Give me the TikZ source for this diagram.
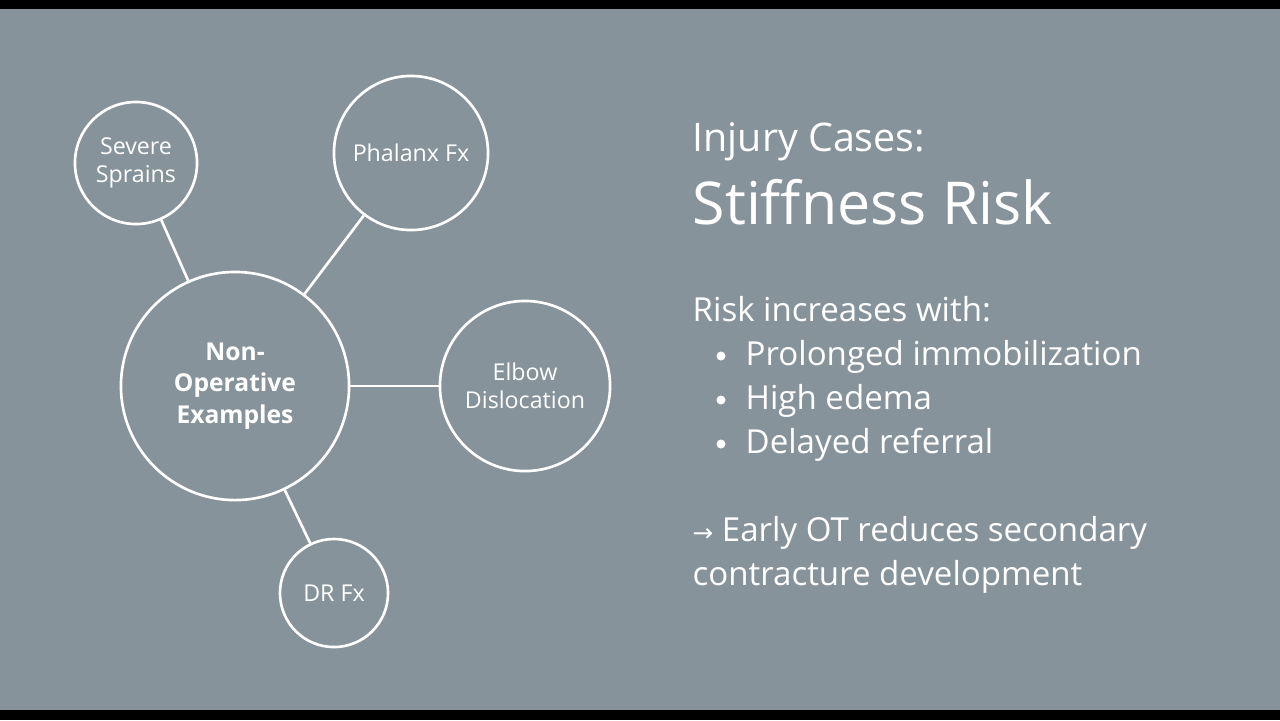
\documentclass[tikz,border=0pt]{standalone}
\usepackage{fontspec}
\setmainfont{Open Sans}
\newfontfamily\arrowfont{DejaVu Sans}
\definecolor{bg}{HTML}{87939A}
\tikzset{
  bub/.style={circle,draw=white,line width=0.75pt,text=white,align=center,inner sep=0pt,font=\fontsize{6.6}{7.9}\selectfont},
  link/.style={draw=white,line width=0.75pt},
  txt/.style={anchor=base west,text=white,inner sep=0pt}
}
\begin{document}
\begin{tikzpicture}[x=0.01cm,y=-0.01cm]
\fill[black] (0,0) rectangle (1280,720);
\fill[bg] (0,9) rectangle (1280,710);
\useasboundingbox (0,0) rectangle (1280,720);
\node[bub,minimum size=2.28cm,font=\bfseries\fontsize{7}{9}\selectfont] (m) at (235,386) {Non-\\Operative\\Examples};
\node[bub,minimum size=1.22cm] (s) at (136,163) {Severe\\Sprains};
\node[bub,minimum size=1.54cm] (p) at (411,153) {Phalanx Fx};
\node[bub,minimum size=1.70cm] (e) at (525,386) {Elbow\\Dislocation};
\node[bub,minimum size=1.08cm] (d) at (334,593) {DR Fx};
\draw[link] (m) -- (s);
\draw[link] (m) -- (p);
\draw[link] (m) -- (e);
\draw[link] (m) -- (d);
\node[txt,font=\fontsize{11.2}{13}\selectfont] (t1) at (692,151) {Injury Cases:};
\node[txt,font=\fontsize{16.8}{20}\selectfont] (t2) at (692,224) {Stiffness Risk};
\node[txt,font=\fontsize{9.4}{11}\selectfont] (r0) at (692,321) {Risk increases with:};
\foreach \y/\t in {365/Prolonged immobilization,409/High edema,453/Delayed referral}{
  \fill[white] (721,\y-9) circle (0.045cm);
  \node[txt,font=\fontsize{9.4}{11}\selectfont] at (745,\y) {\t};
}
\node[txt,font=\fontsize{9.4}{11}\selectfont] (a1) at (692,541) {{\arrowfont\fontsize{7}{9}\selectfont →} Early OT reduces secondary};
\node[txt,font=\fontsize{9.4}{11}\selectfont] (a2) at (692,585) {contracture development};
\end{tikzpicture}
\end{document}
